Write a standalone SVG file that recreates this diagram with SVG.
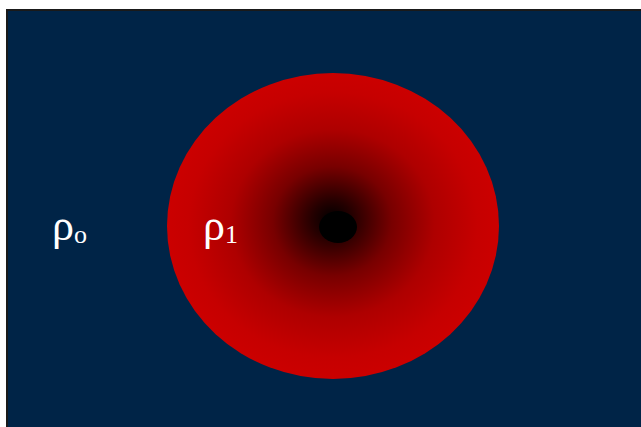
<svg xmlns="http://www.w3.org/2000/svg" width="641" height="427" viewBox="0 0 641 427">
<defs>
<radialGradient id="g" gradientUnits="userSpaceOnUse" cx="333" cy="226" r="170" fx="332" fy="218" gradientTransform="translate(333 226) scale(1 0.92) translate(-333 -226)">
<stop offset="0" stop-color="#000000"/>
<stop offset="0.12" stop-color="#250000"/>
<stop offset="0.35" stop-color="#780000"/>
<stop offset="0.6" stop-color="#ae0000"/>
<stop offset="0.85" stop-color="#c60000"/>
<stop offset="1" stop-color="#cc0000"/>
</radialGradient>
<style>
.lbl{font-family:"Liberation Serif","Times New Roman",serif;fill:#ffffff}
</style>
</defs>
<rect width="641" height="427" fill="#ffffff"/>
<rect x="7" y="10" width="640" height="425" fill="#002447" stroke="#1a1a1a" stroke-width="2"/>
<g id="outer-region">
<text class="lbl" x="52" y="240" font-size="44">ρ<tspan font-size="26" dy="3">o</tspan></text>
</g>
<g id="inner-sphere">
<ellipse cx="333" cy="226" rx="166" ry="153" fill="url(#g)"/>
<ellipse cx="338" cy="227" rx="19" ry="16" fill="#000000"/>
<text class="lbl" x="203" y="240" font-size="44">ρ<tspan font-size="26" dy="3">1</tspan></text>
</g>
<g id="connectors"/>
</svg>
